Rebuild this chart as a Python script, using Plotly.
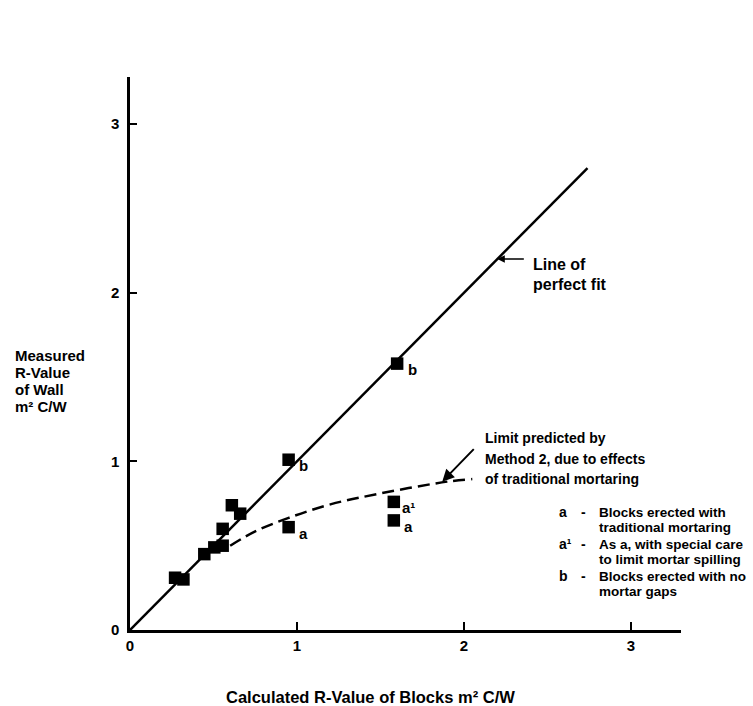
import plotly.graph_objects as go

# ---- data ----
calc_r = [0.27, 0.32, 0.445, 0.505, 0.555, 0.555, 0.61, 0.66, 0.95, 0.95, 1.60, 1.58, 1.58]
meas_r = [0.31, 0.30, 0.45, 0.49, 0.50, 0.60, 0.74, 0.69, 1.01, 0.61, 1.58, 0.76, 0.65]
point_labels = ["", "", "", "", "", "", "", "", "b", "a", "b", "a¹", "a"]

fit_x = [0, 2.74]
fit_y = [0, 2.74]

limit_x = [0.60, 0.75, 0.95, 1.20, 1.50, 1.90, 2.05]
limit_y = [0.50, 0.585, 0.665, 0.745, 0.81, 0.88, 0.895]

x_ticks = [0, 1, 2, 3]
y_ticks = [0, 1, 2, 3]

y_title_lines = ["Measured", "R-Value", "of Wall", "m² C/W"]
x_title = "Calculated R-Value of Blocks m² C/W"
fit_note = ["Line of", "perfect fit"]
limit_note = ["Limit predicted by", "Method 2, due to effects", "of traditional mortaring"]
key_letters = ["a", "a¹", "b"]
key_lines = [["Blocks erected with", "traditional mortaring"],
             ["As a, with special care", "to limit mortar spilling"],
             ["Blocks erected with no", "mortar gaps"]]

FONT = "Liberation Sans, Arial, sans-serif"
W, H = 753, 706
L, R, T, B = 130, 72, 77, 76
PW, PH = W - L - R, H - T - B


def px(xp):
    return (xp - L) / PW


def py(yp):
    return (H - B - yp) / PH


fig = go.Figure()

fig.add_trace(go.Scatter(x=fit_x, y=fit_y, mode="lines",
                         line=dict(color="black", width=2.5), hoverinfo="skip"))
fig.add_trace(go.Scatter(x=limit_x, y=limit_y, mode="lines",
                         line=dict(color="black", width=2.5, dash="12px,6px", shape="spline",
                                   smoothing=1.0),
                         hoverinfo="skip"))
fig.add_trace(go.Scatter(x=calc_r, y=meas_r, mode="markers",
                         marker=dict(symbol="square", size=12.5, color="black"),
                         hoverinfo="skip"))

ann = []
# point labels
for xv, yv, lab in zip(calc_r, meas_r, point_labels):
    if lab:
        ann.append(dict(x=xv, y=yv, xref="x", yref="y", text="<b>%s</b>" % lab,
                        showarrow=False, xshift=15, yshift=-6,
                        font=dict(size=15, family=FONT, color="black")))

# y title
for i, t in enumerate(y_title_lines):
    ann.append(dict(x=px(13), y=py(355 + i * 17.3), xref="paper", yref="paper",
                    text="<b>%s</b>" % t, showarrow=False, xanchor="left", yanchor="middle",
                    font=dict(size=15, family=FONT, color="black")))

# x title
ann.append(dict(x=px(370), y=py(697), xref="paper", yref="paper",
                text="<b>%s</b>" % x_title, showarrow=False, xanchor="center", yanchor="middle",
                font=dict(size=16.5, family=FONT, color="black")))

# line of perfect fit note
for i, t in enumerate(fit_note):
    ann.append(dict(x=px(531), y=py(264 + i * 20), xref="paper", yref="paper",
                    text="<b>%s</b>" % t, showarrow=False, xanchor="left", yanchor="middle",
                    font=dict(size=16, family=FONT, color="black")))
ann.append(dict(x=2.2, y=2.2, xref="x", yref="y", text="", showarrow=True,
                ax=28, ay=0, arrowhead=2, arrowsize=1, arrowwidth=1.5, arrowcolor="black"))

# limit note
for i, t in enumerate(limit_note):
    ann.append(dict(x=px(483), y=py(438 + i * 20.5), xref="paper", yref="paper",
                    text="<b>%s</b>" % t, showarrow=False, xanchor="left", yanchor="middle",
                    font=dict(size=14, family=FONT, color="black")))
ann.append(dict(x=1.87, y=0.88, xref="x", yref="y", text="", showarrow=True,
                ax=33, ay=-34, arrowhead=2, arrowsize=1.2, arrowwidth=2, arrowcolor="black"))

# key
for i, (letter, lines) in enumerate(zip(key_letters, key_lines)):
    y0 = 512 + i * 32
    ann.append(dict(x=px(557), y=py(y0), xref="paper", yref="paper",
                    text="<b>%s</b>" % letter, showarrow=False, xanchor="left", yanchor="middle",
                    font=dict(size=14, family=FONT, color="black")))
    ann.append(dict(x=px(583), y=py(y0), xref="paper", yref="paper",
                    text="<b>-</b>", showarrow=False, xanchor="center", yanchor="middle",
                    font=dict(size=14, family=FONT, color="black")))
    for j, t in enumerate(lines):
        ann.append(dict(x=px(597), y=py(y0 + j * 15.5), xref="paper", yref="paper",
                        text="<b>%s</b>" % t, showarrow=False, xanchor="left", yanchor="middle",
                        font=dict(size=13.5, family=FONT, color="black")))

fig.update_layout(
    width=W, height=H,
    margin=dict(l=L, r=R, t=T, b=B, pad=0),
    paper_bgcolor="white", plot_bgcolor="white",
    showlegend=False,
    annotations=ann,
    font=dict(family=FONT, color="black"),
    xaxis=dict(range=[0, 3.3], tickvals=x_ticks, ticktext=["<b>%d</b>" % v for v in x_ticks],
               ticks="inside", ticklen=8, tickwidth=2, tickcolor="black",
               showline=True, linecolor="black", linewidth=2.5,
               showgrid=False, zeroline=False,
               tickfont=dict(size=15, family=FONT, color="black")),
    yaxis=dict(range=[0, 3.28], tickvals=y_ticks, ticktext=["<b>%d</b>" % v for v in y_ticks],
               ticks="inside", ticklen=7, tickwidth=2, tickcolor="black",
               showline=True, linecolor="black", linewidth=2.5,
               showgrid=False, zeroline=False, ticklabelstandoff=5,
               tickfont=dict(size=15, family=FONT, color="black")),
)

fig.write_html("out.html")
